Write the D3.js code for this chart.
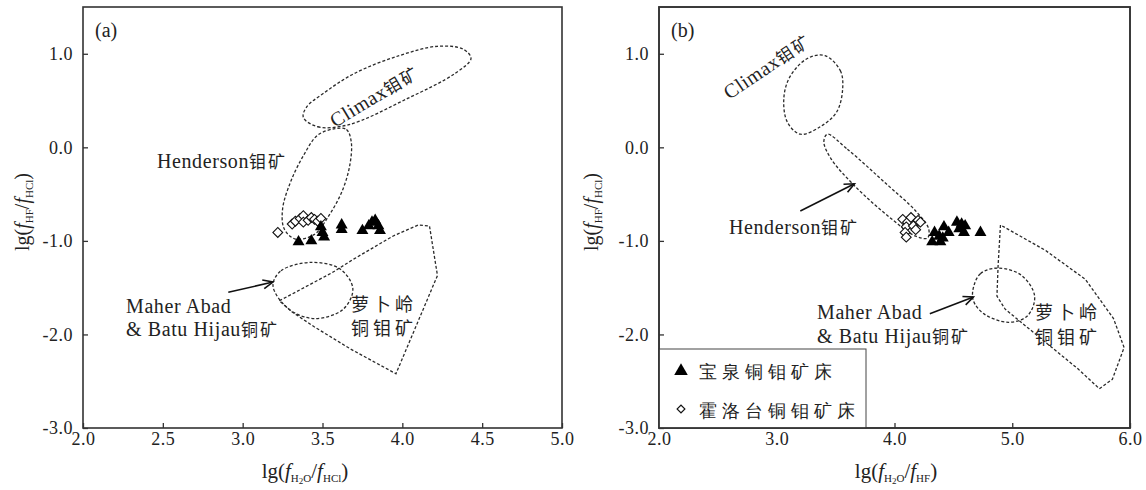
<!DOCTYPE html>
<html><head><meta charset="utf-8">
<script src="https://cdn.jsdelivr.net/npm/d3@7"></script>
<style>
html,body{margin:0;padding:0;background:#fff;}
svg{display:block;}
text{font-family:"Liberation Serif",serif;fill:#222;-webkit-font-smoothing:antialiased;}
</style></head><body>
<svg id="chart" width="1146" height="490"></svg>
<script>
// ---------------- data ----------------
const xTicksA = [2.0, 2.5, 3.0, 3.5, 4.0, 4.5, 5.0];
const xTickLabelsA = ["2.0", "2.5", "3.0", "3.5", "4.0", "4.5", "5.0"];
const xTicksB = [2, 3, 4, 5, 6];
const xTickLabelsB = ["2.0", "3.0", "4.0", "5.0", "6.0"];
const yTicks = [-3, -2, -1, 0, 1];
const yTickLabels = ["-3.0", "-2.0", "-1.0", "0.0", "1.0"];

// panel (a): lg(fH2O/fHCl) vs lg(fHF/fHCl)
const baoquanA = [[3.35,-1.01],[3.43,-1.00],[3.49,-0.85],[3.50,-0.91],[3.51,-0.96],[3.62,-0.83],[3.62,-0.88],
                  [3.75,-0.89],[3.79,-0.84],[3.81,-0.80],[3.83,-0.78],[3.85,-0.84],[3.86,-0.89]];
const huoluotaiA = [[3.22,-0.91],[3.31,-0.82],[3.33,-0.79],[3.36,-0.76],[3.38,-0.73],[3.38,-0.80],
                    [3.41,-0.78],[3.43,-0.75],[3.45,-0.77],[3.47,-0.79],[3.49,-0.76]];
// panel (b): lg(fH2O/fHF) vs lg(fHF/fHCl)
const baoquanB = [[4.32,-1.01],[4.39,-1.01],[4.34,-0.91],[4.38,-0.95],[4.42,-0.85],[4.46,-0.91],[4.41,-0.97],
                  [4.53,-0.80],[4.57,-0.82],[4.60,-0.84],[4.59,-0.91],[4.55,-0.87],[4.73,-0.91]];
const huoluotaiB = [[4.07,-0.77],[4.11,-0.80],[4.14,-0.75],[4.10,-0.85],[4.09,-0.91],[4.10,-0.96],
                    [4.20,-0.78],[4.22,-0.80],[4.16,-0.84],[4.18,-0.88]];

// reference fields (outlines in data units)
const climaxA = [[3.38,0.32],[3.47,0.22],[3.66,0.24],[4.03,0.52],[4.33,0.79],[4.43,0.95],[4.38,1.05],
                 [4.22,1.08],[3.98,0.98],[3.70,0.79],[3.50,0.57],[3.40,0.43]];
const hendersonA = [[3.58,0.20],[3.65,0.19],[3.68,0.06],[3.67,-0.20],[3.62,-0.48],[3.54,-0.73],[3.45,-0.93],
                    [3.33,-0.98],[3.26,-0.87],[3.25,-0.66],[3.30,-0.37],[3.38,-0.09],[3.47,0.13]];
const maherA = [[3.19,-1.48],[3.24,-1.32],[3.43,-1.23],[3.61,-1.30],[3.69,-1.51],[3.63,-1.73],[3.45,-1.83],[3.29,-1.73]];
const luobulingA = [[3.23,-1.64],[3.56,-1.34],[3.70,-1.19],[3.94,-0.95],[4.10,-0.83],[4.17,-0.84],[4.22,-1.37],
                    [3.96,-2.42],[3.68,-2.16],[3.45,-1.92],[3.31,-1.76]];
const climaxB = [[3.41,0.98],[3.54,0.82],[3.56,0.63],[3.51,0.38],[3.37,0.22],[3.20,0.14],[3.09,0.27],
                 [3.06,0.52],[3.11,0.75],[3.26,0.95]];
const hendersonB = [[3.43,0.14],[3.60,-0.02],[3.93,-0.39],[4.18,-0.68],[4.29,-0.87],[4.28,-0.97],[4.18,-0.95],
                    [3.96,-0.75],[3.66,-0.41],[3.46,-0.12],[3.40,0.06]];
const maherB = [[4.67,-1.50],[4.73,-1.35],[4.88,-1.29],[5.08,-1.37],[5.19,-1.59],[5.13,-1.80],[4.97,-1.87],[4.76,-1.78],[4.67,-1.64]];
const luobulingB = [[4.90,-0.83],[4.88,-1.26],[4.87,-1.59],[4.94,-1.73],[5.25,-2.05],[5.56,-2.37],[5.74,-2.58],
                    [5.85,-2.48],[5.95,-2.14],[5.86,-1.83],[5.62,-1.41],[5.28,-1.10]];

// arrows [from, to] in data units
const arrowsA = [[[2.91,-1.55],[3.19,-1.44]]];
const arrowsB = [[[3.20,-0.68],[3.66,-0.39]], [[4.30,-1.78],[4.67,-1.60]]];

const legendLabels = ["宝泉铜钼矿床", "霍洛台铜钼矿床"];

// ---------------- drawing ----------------
const CJK = "Noto Sans CJK SC";
const svg = d3.select("#chart");
svg.append("rect").attr("width", 1146).attr("height", 490).attr("fill", "#fff");

const defs = svg.append("defs");
defs.append("marker").attr("id", "arrowhead").attr("viewBox", "-12 -7 14 14")
  .attr("markerWidth", 14).attr("markerHeight", 14).attr("markerUnits", "userSpaceOnUse")
  .attr("orient", "auto").attr("refX", 0).attr("refY", 0)
  .append("path").attr("d", "M-10,-4.5 L0,0 L-10,4.5").attr("fill", "none")
  .attr("stroke", "#111").attr("stroke-width", 1.6);

const yScale = d3.scaleLinear().domain([-3, 1.5]).range([428, 7]);
const xA = d3.scaleLinear().domain([2, 5]).range([83, 562]);
const xB = d3.scaleLinear().domain([2, 6]).range([659, 1130]);

function rich(sel, parts) {
  parts.forEach(p => {
    if (typeof p === "string") p = {t: p};
    const ts = sel.append("tspan").text(p.t);
    if (p.italic) ts.attr("font-style", "italic");
    if (p.font) ts.attr("font-family", p.font);
    else if (p.cjk) ts.attr("font-family", CJK);
    if (p.size) ts.attr("font-size", p.size);
    if (p.dy) ts.attr("dy", p.dy);
    if (p.ls != null) ts.attr("letter-spacing", p.ls);
  });
  return sel;
}

function drawPanel(cfg) {
  const g = svg.append("g");
  const x = cfg.x, y = yScale;
  const [x0, x1] = x.range(), [y1, y0] = y.range();

  // fields
  const closedCurve = d3.line().x(d => x(d[0])).y(d => y(d[1])).curve(d3.curveCatmullRomClosed.alpha(0.5));
  const closedPoly = d3.line().x(d => x(d[0])).y(d => y(d[1])).curve(d3.curveLinearClosed);
  cfg.ellipses.forEach(pts => g.append("path").attr("d", closedCurve(pts))
    .attr("fill", "none").attr("stroke", "#2a2a2a").attr("stroke-width", 1.3).attr("stroke-dasharray", "3,2"));
  g.append("path").attr("d", closedPoly(cfg.poly))
    .attr("fill", "none").attr("stroke", "#2a2a2a").attr("stroke-width", 1.3).attr("stroke-dasharray", "3,2");

  // arrows
  cfg.arrows.forEach(a => g.append("line")
    .attr("x1", x(a[0][0])).attr("y1", y(a[0][1])).attr("x2", x(a[1][0])).attr("y2", y(a[1][1]))
    .attr("stroke", "#111").attr("stroke-width", 1.6).attr("marker-end", "url(#arrowhead)"));

  // points
  const tri = d3.symbol().type(d3.symbolTriangle).size(62);
  const sq = d3.symbol().type(d3.symbolSquare).size(48);
  g.selectAll(".dia").data(cfg.dia).join("path")
    .attr("d", sq).attr("transform", d => `translate(${x(d[0])},${y(d[1])}) rotate(45)`)
    .attr("fill", "#fff").attr("stroke", "#111").attr("stroke-width", 1.1);
  g.selectAll(".tri").data(cfg.tri).join("path")
    .attr("d", tri).attr("transform", d => `translate(${x(d[0])},${y(d[1])})`)
    .attr("fill", "#000");

  // axes
  const ax = g.append("g").attr("transform", `translate(0,${y1})`)
    .call(d3.axisBottom(x).tickValues(cfg.xTicks).tickFormat((d, i) => cfg.xLabels[i])
      .tickSize(-5).tickSizeOuter(0).tickPadding(4));
  const ay = g.append("g").attr("transform", `translate(${x0},0)`)
    .call(d3.axisLeft(y).tickValues(yTicks).tickFormat((d, i) => yTickLabels[i])
      .tickSize(-5).tickSizeOuter(0).tickPadding(10));
  [ax, ay].forEach(a => {
    a.select(".domain").remove();
    a.selectAll(".tick line").attr("stroke", "#333").attr("stroke-width", 1.3);
    a.selectAll(".tick text").attr("font-family", "Liberation Serif").attr("font-size", 18)
      .attr("fill", "#222").attr("letter-spacing", 0.5);
  });

  // frame
  g.append("rect").attr("x", x0).attr("y", y0).attr("width", x1 - x0).attr("height", y1 - y0)
    .attr("fill", "none").attr("stroke", "#333").attr("stroke-width", 1.6);

  // panel label
  g.append("text").attr("x", x0 + 12).attr("y", y0 + 30).attr("font-size", 20).text(cfg.tag);

  // axis titles
  const xt = g.append("text").attr("x", cfg.xTitleX).attr("y", 478).attr("text-anchor", "middle").attr("font-size", 21);
  rich(xt, ["lg(", {t: "f", italic: true}, {t: "H", size: 11, dy: 4}, {t: "2", size: 9, dy: 2},
            {t: "O", size: 11, dy: -2}, {t: "/", dy: -4}, {t: "f", italic: true}, {t: cfg.xSub, size: 11, dy: 4}, {t: ")", dy: -4}]);
  const yt = g.append("text").attr("transform", `translate(${cfg.yTitleX},212) rotate(-90)`)
    .attr("text-anchor", "middle").attr("font-size", 20);
  rich(yt, ["lg(", {t: "f", italic: true}, {t: "HF", size: 11, dy: 4}, {t: "/", dy: -4},
            {t: "f", italic: true}, {t: "HCl", size: 11, dy: 4}, {t: ")", dy: -4}]);

  // annotations
  cfg.notes.forEach(n => {
    const t = g.append("text").attr("font-size", 20).attr("letter-spacing", 0.6);
    if (n.rot) t.attr("transform", `translate(${n.x},${n.y}) rotate(${n.rot})`).attr("text-anchor", "middle");
    else t.attr("x", n.x).attr("y", n.y);
    rich(t, n.parts);
  });
  return g;
}

const cjk = s => ({t: s, size: 17, ls: 2, cjk: true});
const cjkBig = s => ({t: s, size: 18, ls: 4, cjk: true});
const cjkAlt = s => ({t: s, size: 18, ls: 4, font: "Noto Sans CJK JP"});

drawPanel({
  x: xA, xTicks: xTicksA, xLabels: xTickLabelsA, tag: "(a)", xSub: "HCl",
  xTitleX: 305, yTitleX: 29,
  tri: baoquanA, dia: huoluotaiA,
  ellipses: [climaxA, hendersonA, maherA], poly: luobulingA, arrows: arrowsA,
  notes: [
    {x: 378, y: 102, rot: -31, parts: ["Climax", cjk("钼矿")]},
    {x: 157, y: 168, parts: ["Henderson", cjk("钼矿")]},
    {x: 126, y: 313, parts: ["Maher Abad"]},
    {x: 126, y: 336, parts: ["& Batu Hijau", cjk("铜矿")]},
    {x: 351, y: 311, parts: [cjkBig("萝卜"), cjkAlt("岭")]},
    {x: 351, y: 335, parts: [cjkBig("铜钼矿")]}
  ]
});

const gB = drawPanel({
  x: xB, xTicks: xTicksB, xLabels: xTickLabelsB, tag: "(b)", xSub: "HF",
  xTitleX: 896, yTitleX: 598,
  tri: baoquanB, dia: huoluotaiB,
  ellipses: [climaxB, hendersonB, maherB], poly: luobulingB, arrows: arrowsB,
  notes: [
    {x: 771, y: 72, rot: -34, parts: ["Climax", cjk("钼矿")]},
    {x: 729, y: 234, parts: ["Henderson", cjk("钼矿")]},
    {x: 817, y: 319, parts: ["Maher Abad"]},
    {x: 817, y: 343, parts: ["& Batu Hijau", cjk("铜矿")]},
    {x: 1035, y: 319, parts: [cjkBig("萝卜"), cjkAlt("岭")]},
    {x: 1035, y: 344, parts: [cjkBig("铜钼矿")]}
  ]
});

// legend (panel b)
const lg = gB.append("g");
lg.append("rect").attr("x", xB.range()[0]).attr("y", 349).attr("width", 207).attr("height", yScale.range()[0] - 349)
  .attr("fill", "#fff").attr("stroke", "#444").attr("stroke-width", 1);
lg.append("path").attr("d", d3.symbol().type(d3.symbolTriangle).size(80))
  .attr("transform", "translate(681,371)").attr("fill", "#000");
lg.append("path").attr("d", d3.symbol().type(d3.symbolSquare).size(30))
  .attr("transform", "translate(681,409) rotate(45)").attr("fill", "#fff").attr("stroke", "#111").attr("stroke-width", 1.2);
legendLabels.forEach((s, i) => lg.append("text").attr("x", 699).attr("y", 378 + i * 39)
  .attr("font-family", CJK).attr("font-size", 18).attr("letter-spacing", 5).attr("fill", "#333").text(s));
// redraw frame over legend
gB.append("rect").attr("x", xB.range()[0]).attr("y", yScale.range()[1]).attr("width", xB.range()[1] - xB.range()[0])
  .attr("height", yScale.range()[0] - yScale.range()[1]).attr("fill", "none").attr("stroke", "#333").attr("stroke-width", 1.6);
</script>
</body></html>
